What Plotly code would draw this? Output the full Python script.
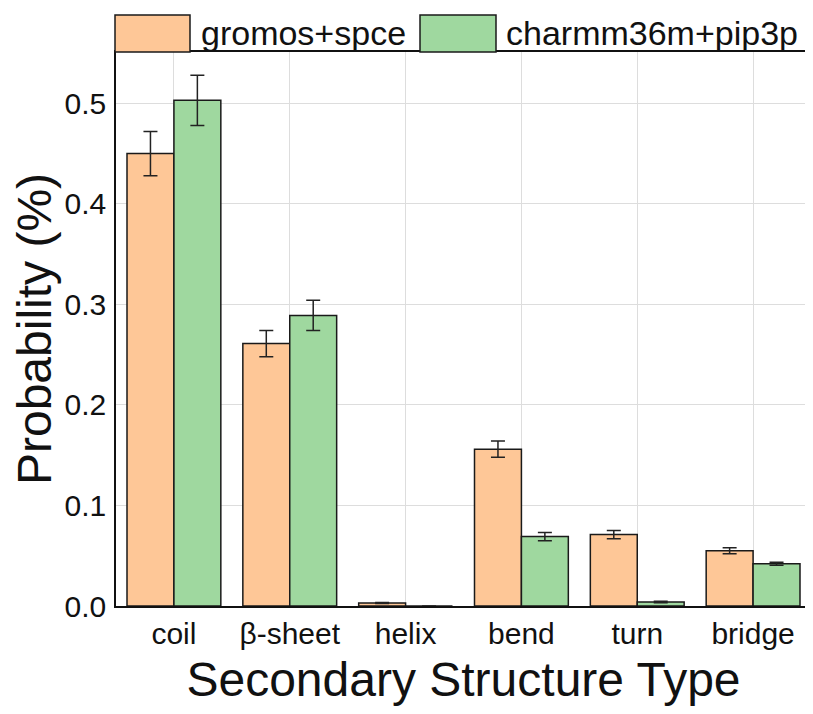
import plotly.graph_objects as go

categories = ["coil", "β-sheet", "helix", "bend", "turn", "bridge"]
gromos_vals = [0.450, 0.261, 0.003, 0.156, 0.071, 0.055]
gromos_err = [0.022, 0.013, 0.0005, 0.008, 0.004, 0.003]
charmm_vals = [0.503, 0.289, 0.0, 0.069, 0.004, 0.042]
charmm_err = [0.025, 0.015, 0.0, 0.004, 0.0007, 0.0015]
series_names = ["gromos+spce", "charmm36m+pip3p"]
y_ticks = [0.0, 0.1, 0.2, 0.3, 0.4, 0.5]

ORANGE = "#FEC797"
GREEN = "#9FD89F"
FONT = "Liberation Sans, Arial, sans-serif"

# the page body has an 8px margin; lay the figure out in page pixels
OFF = 8
PAGE_W, PAGE_H = 813, 714
W, H = PAGE_W - OFF, PAGE_H - OFF
PLOT_L, PLOT_R, PLOT_T, PLOT_B = 116, 811, 52, 606  # page pixels
ML = PLOT_L - OFF
MR = PAGE_W - PLOT_R
MT = PLOT_T - OFF
MB = (PAGE_H - OFF) - (PLOT_B - OFF) - 0
MB = H - (PLOT_B - OFF)
PW, PH = W - ML - MR, H - MT - MB

fig = go.Figure()
for name, vals, errs, col in [
    (series_names[0], gromos_vals, gromos_err, ORANGE),
    (series_names[1], charmm_vals, charmm_err, GREEN),
]:
    fig.add_trace(go.Bar(
        x=categories, y=vals, name=name,
        marker=dict(color=col, line=dict(color="#1a1a1a", width=1.5)),
        error_y=dict(type="data", array=errs, visible=True,
                     color="#222222", thickness=1.5, width=7),
        showlegend=False,
    ))

def px_x(px):
    return (px - PLOT_L) / PW

def px_y(py):
    return (PLOT_B - py) / PH

# custom legend (large swatches above the plot)
legend_items = [
    (series_names[0], ORANGE, 115, 190, 199),
    (series_names[1], GREEN, 420, 496, 504),
]
for name, col, x0, x1, tx in legend_items:
    fig.add_shape(type="rect", xref="paper", yref="paper",
                  x0=px_x(x0), x1=px_x(x1), y0=px_y(52), y1=px_y(15),
                  fillcolor=col, line=dict(color="#1a1a1a", width=1.5),
                  layer="above")
    fig.add_annotation(xref="paper", yref="paper", x=px_x(tx), y=px_y(33),
                       xanchor="left", yanchor="middle", text=name,
                       showarrow=False,
                       font=dict(family=FONT, size=34, color="#111111"))

fig.update_layout(
    width=W, height=H,
    margin=dict(l=ML, r=MR, t=MT, b=MB, pad=0, autoexpand=False),
    paper_bgcolor="white", plot_bgcolor="white",
    barmode="group", bargap=0.19, bargroupgap=0.0,
    font=dict(family=FONT, color="#111111"),
    xaxis=dict(
        range=[-0.5, 5.5], automargin=False,
        showgrid=True, gridcolor="#dddddd", gridwidth=1,
        showline=True, linecolor="#111111", linewidth=1.5, mirror=True,
        ticks="", tickfont=dict(family=FONT, size=30, color="#111111"),
        ticklabelstandoff=0,
        title=dict(text="Secondary Structure Type",
                   font=dict(family=FONT, size=48, color="#111111"),
                   standoff=14),
    ),
    yaxis=dict(
        range=[0, 0.551], automargin=False,
        tickvals=y_ticks, ticktext=[f"{v:.1f}" for v in y_ticks],
        showgrid=True, gridcolor="#dddddd", gridwidth=1,
        zeroline=False,
        showline=True, linecolor="#111111", linewidth=1.5, mirror=True,
        ticks="", tickfont=dict(family=FONT, size=30, color="#111111"),
        ticklabelstandoff=2,
        title=dict(text="Probability (%)",
                   font=dict(family=FONT, size=48, color="#111111"),
                   standoff=12),
    ),
)

fig.write_html("out.html")
